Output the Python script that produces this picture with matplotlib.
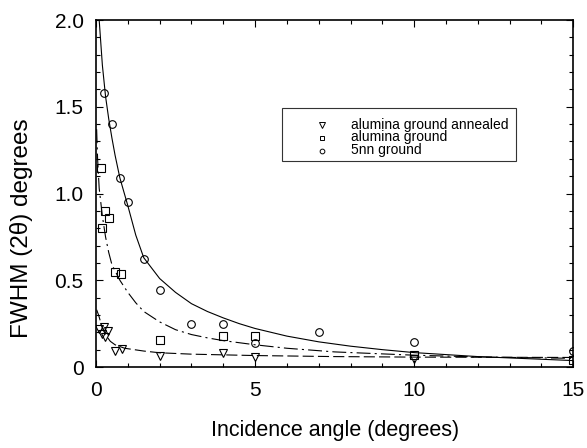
import matplotlib
matplotlib.use('Agg')
import matplotlib.pyplot as plt
from matplotlib.patches import Rectangle
from matplotlib.ticker import FixedLocator, FixedFormatter, MultipleLocator

plt.rcParams['font.family'] = ['Liberation Sans', 'DejaVu Sans']
plt.rcParams['lines.scale_dashes'] = False

# ---- data ----
circ_x = [0.25, 0.5, 0.75, 1.0, 1.5, 2.0, 3.0, 4.0, 5.0, 7.0, 10.0, 15.0]
circ_y = [1.58, 1.40, 1.09, 0.95, 0.62, 0.445, 0.25, 0.25, 0.14, 0.203, 0.146, 0.09]

sq_x = [0.17, 0.29, 0.4, 0.19, 0.59, 0.8, 2.0, 4.0, 5.0, 10.0, 15.0]
sq_y = [1.148, 0.90, 0.857, 0.80, 0.545, 0.538, 0.154, 0.177, 0.18, 0.072, 0.043]

tri_x = [0.1, 0.25, 0.38, 0.2, 0.29, 0.6, 0.82, 2.0, 4.0, 5.0, 10.0]
tri_y = [0.22, 0.228, 0.205, 0.19, 0.173, 0.09, 0.105, 0.066, 0.083, 0.055, 0.047]

fit5nn_x = [0.1, 0.2, 0.3, 0.4, 0.5, 0.6, 0.75, 1.0, 1.25, 1.5, 2.0, 2.5, 3.0, 3.5,
            4.0, 4.5, 5.0, 6.0, 7.0, 8.0, 9.0, 10.0, 12.0, 15.0]
fit5nn_y = [2.0, 1.74, 1.56, 1.43, 1.32, 1.22, 1.09, 0.93, 0.76, 0.63, 0.51, 0.43, 0.365,
            0.32, 0.283, 0.25, 0.222, 0.178, 0.145, 0.12, 0.10, 0.083, 0.06, 0.037]

fitag_x = [0.02, 0.05, 0.1, 0.2, 0.3, 0.4, 0.5, 0.75, 1.0, 1.25, 1.5, 2.0, 2.5, 3.0,
           3.5, 4.0, 5.0, 6.0, 7.5, 10.0, 12.0, 15.0]
fitag_y = [1.37, 1.20, 1.03, 0.87, 0.75, 0.66, 0.59, 0.50, 0.43, 0.37, 0.32, 0.26,
           0.215, 0.187, 0.168, 0.152, 0.128, 0.108, 0.087, 0.068, 0.058, 0.05]

fitann_x = [0.02, 0.08, 0.2, 0.3, 0.45, 0.6, 0.9, 1.5, 2.0, 3.0, 5.0, 7.5, 10.0, 15.0]
fitann_y = [0.33, 0.30, 0.225, 0.185, 0.148, 0.128, 0.108, 0.092, 0.082, 0.074,
            0.066, 0.06, 0.057, 0.055]

labels = ['alumina ground annealed', 'alumina ground', '5nn ground']
xticks = [0, 5, 10, 15]
xticklabels = ['0', '5', '10', '15']
yticks = [0, 0.5, 1.0, 1.5, 2.0]
yticklabels = ['0', '0.5', '1.0', '1.5', '2.0']

fig = plt.figure(figsize=(5.87, 4.48), dpi=100)
ax = fig.add_axes([96/587, 1-367/448, (573.3-96)/587, (367-20)/448])

lw = 0.8
ax.plot(fit5nn_x, fit5nn_y, color='black', lw=lw, ls='-')
ax.plot(fitag_x, fitag_y, color='black', lw=lw, ls=(0, (10, 3, 1.5, 3)))
ax.plot(fitann_x, fitann_y, color='black', lw=lw, ls=(0, (8, 3)))

mk = dict(ls='none', mfc='none', mec='black', mew=0.8, ms=5.5)
ax.plot(tri_x, tri_y, marker='v', **mk)
ax.plot(sq_x, sq_y, marker='s', **mk)
ax.plot(circ_x, circ_y, marker='o', **mk)

ax.set_xlim(0, 15)
ax.set_ylim(0, 2.0)
ax.xaxis.set_major_locator(FixedLocator(xticks))
ax.xaxis.set_major_formatter(FixedFormatter(xticklabels))
ax.yaxis.set_major_locator(FixedLocator(yticks))
ax.yaxis.set_major_formatter(FixedFormatter(yticklabels))
ax.xaxis.set_minor_locator(MultipleLocator(1))
ax.yaxis.set_minor_locator(MultipleLocator(0.1))
ax.tick_params(which='both', direction='in', top=True, right=True, width=0.8)
ax.tick_params(which='major', length=5, labelsize=15)
ax.tick_params(which='minor', length=3)
ax.tick_params(axis='x', which='major', pad=10)
ax.tick_params(axis='y', which='major', pad=9)
for s in ax.spines.values():
    s.set_linewidth(1.2)

ax.set_xlabel('Incidence angle (degrees)', fontsize=15.5, va='center')
ax.xaxis.set_label_coords(0.5, -(430-367)/347)
ax.set_ylabel('FWHM (2θ) degrees', fontsize=17.5, va='center')
ax.yaxis.set_label_coords((21-96)/477.3, (367-228)/347)

# legend box drawn by hand
ax.add_patch(Rectangle((0.390, 0.5945), 0.489, 0.151, transform=ax.transAxes,
                       facecolor='white', edgecolor='#333333', lw=0.8, zorder=5))
markers = ['v', 's', 'o']
sizes = [4.2, 3.4, 3.4]
rows_base = [0.6873, 0.6499, 0.6124]
rows_mid = [0.6974, 0.6600, 0.6225]
for lab, m, s, yb, ym in zip(labels, markers, sizes, rows_base, rows_mid):
    ax.plot([0.4729], [ym], marker=m, ms=s, mfc='none', mec='black', mew=0.7,
            ls='none', transform=ax.transAxes, zorder=6, clip_on=False)
    ax.text(0.5343, yb, lab, transform=ax.transAxes, fontsize=10, va='baseline',
            ha='left', zorder=6)

fig.savefig('out.png', dpi=100)
